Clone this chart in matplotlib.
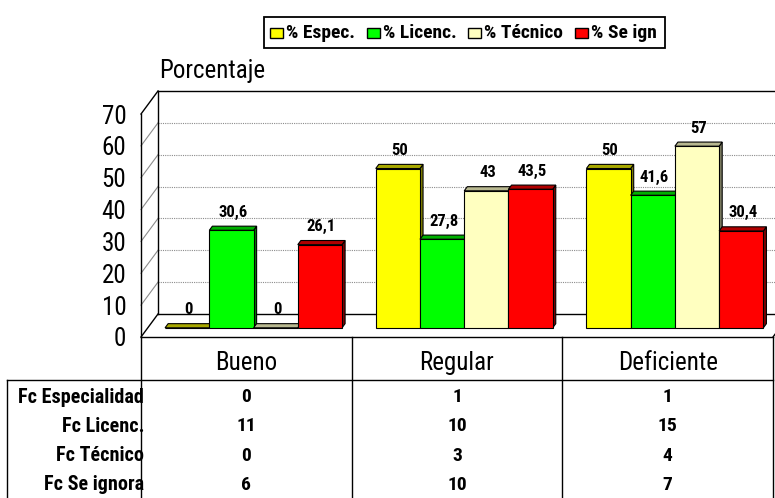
import matplotlib
matplotlib.use("Agg")
import matplotlib.pyplot as plt
from matplotlib.patches import Polygon, Rectangle
from matplotlib.lines import Line2D
from matplotlib.transforms import blended_transform_factory
from matplotlib import font_manager

# data
categories = ["Bueno", "Regular", "Deficiente"]
series = ["% Espec.", "% Licenc.", "% Técnico", "% Se ign"]
pct_espec = [0, 50, 50]
pct_licenc = [30.6, 27.8, 41.6]
pct_tecnico = [0, 43, 57]
pct_seign = [26.1, 43.5, 30.4]

row_labels = ["Fc Especialidad", "Fc Licenc.", "Fc Técnico", "Fc Se ignora"]
fc_espec = [0, 1, 1]
fc_licenc = [11, 10, 15]
fc_tecnico = [0, 3, 4]
fc_seign = [6, 10, 7]

yticks = [0, 10, 20, 30, 40, 50, 60, 70]

front_cols = ["#FFFF00", "#00FF00", "#FFFFC0", "#FF0000"]
top_cols = ["#A8A800", "#00B000", "#B8B890", "#B00000"]
side_cols = ["#808000", "#008000", "#808064", "#800000"]

# narrow sans like the original, fall back to plain Liberation Sans
names = {f.name for f in font_manager.fontManager.ttflist}
fam = "Liberation Sans"
for cand in ["Liberation Sans Narrow", "Arial Narrow", "Roboto Condensed", "Archivo Narrow"]:
    if cand in names:
        fam = cand
        break
plt.rcParams["font.family"] = [fam, "DejaVu Sans"]

W, H = 775, 498
fig = plt.figure(figsize=(W / 100, H / 100), dpi=100)
ax = fig.add_axes([141 / W, 1 - 337 / H, 632 / W, 223 / H])
ax.set_xlim(0, 3)
ax.set_ylim(0, 70)
ax.patch.set_visible(False)
for s in ax.spines.values():
    s.set_visible(False)
ax.set_xticks([])
ax.set_yticks(yticks)
ax.tick_params(axis="y", length=0, pad=10.5, labelsize=18)

# depth of the 3d box (data units)
DX = 17 / 210.67
DY = 23 / 3.186


def pt(x, v, d):
    return (x + d * DX, v + d * DY)


line_kw = dict(color="black", lw=1.0, clip_on=False, zorder=2)
# gridlines on back wall and left wall
for v in yticks[1:-1]:
    ax.plot([pt(0, v, 1)[0], pt(3.2, v, 1)[0]], [v + DY, v + DY], color="#8c8c8c",
            lw=0.8, ls=(0, (1, 1)), clip_on=False, zorder=1)
    ax.plot([0, DX], [v, v + DY], color="#8c8c8c", lw=0.8, clip_on=False, zorder=1)
# box edges
ax.plot([0, 0], [0, 70], **line_kw)
ax.plot([0, DX], [70, 70 + DY], **line_kw)
ax.plot([DX, 3.2], [70 + DY, 70 + DY], **line_kw)
ax.plot([DX, DX], [DY, 70 + DY], **line_kw)
ax.plot([0, DX], [0, DY], **line_kw)
ax.plot([DX, 3.2], [DY, DY], **line_kw)
ax.plot([0, 3], [0, 0], **line_kw)
ax.plot([3, 3 + DX], [0, DY], **line_kw)

# bars
GAP = 0.082
BW = 0.21
D0, D1 = 0.4, 0.58
all_vals = [pct_espec, pct_licenc, pct_tecnico, pct_seign]
for j, vals in enumerate(all_vals):
    z = 3 + j
    xs = [i + GAP + j * BW for i in range(len(categories))]
    ax.bar([x + D0 * DX for x in xs], vals, width=BW, bottom=D0 * DY, align="edge",
           color=front_cols[j], edgecolor="black", lw=0.8, clip_on=False, zorder=z + 0.5)
    for x, v in zip(xs, vals):
        top = [pt(x, v, D0), pt(x + BW, v, D0), pt(x + BW, v, D1), pt(x, v, D1)]
        side = [pt(x + BW, 0, D0), pt(x + BW, v, D0), pt(x + BW, v, D1), pt(x + BW, 0, D1)]
        ax.add_patch(Polygon(side, closed=True, fc=side_cols[j], ec="black", lw=0.8,
                             clip_on=False, zorder=z))
        ax.add_patch(Polygon(top, closed=True, fc=top_cols[j], ec="black", lw=0.8,
                             clip_on=False, zorder=z))
        lx, ly = pt(x + BW / 2, v, D0)
        ax.annotate(f"{v:g}".replace(".", ","), (lx, ly), xytext=(1.5, 18),
                    textcoords="offset pixels", ha="center", va="center",
                    fontsize=12, weight="bold", zorder=20, annotation_clip=False)

# data table under the plot
tr = blended_transform_factory(ax.transData, fig.transFigure)


def fy(py):
    return 1 - py / H


for x in range(len(categories) + 1):
    ax.plot([x, x], [fy(337), 0], transform=tr, **line_kw)
fig.add_artist(Line2D([7 / W, 773 / W], [fy(380), fy(380)], color="black", lw=1.0))
fig.add_artist(Line2D([7 / W, 7 / W], [fy(380), 0], color="black", lw=1.0))

for i, c in enumerate(categories):
    ax.text(i + 0.5, fy(363), c, transform=tr, ha="center", va="center", fontsize=18)

table_vals = [fc_espec, fc_licenc, fc_tecnico, fc_seign]
for k, (lab, vals) in enumerate(zip(row_labels, table_vals)):
    y = fy(397 + k * 29.3)
    ax.text(0.016, y, lab, transform=tr, ha="right", va="center", fontsize=14.5,
            weight="bold", zorder=1)
    for i, v in enumerate(vals):
        ax.text(i + 0.5, y, str(v), transform=tr, ha="center", va="center",
                fontsize=14, weight="bold")

# y label
fig.text(159 / W, fy(71), "Porcentaje", ha="left", va="center", fontsize=18)

# legend box, entries at the same spots as the original
fig.add_artist(Rectangle((264 / W, fy(48)), 401 / W, 31 / H, transform=fig.transFigure,
                         fc="white", ec="black", lw=1.3))
leg_x = [270, 367, 468, 575]
for j, name in enumerate(series):
    fig.add_artist(Rectangle((leg_x[j] / W, fy(38)), 13 / W, 10 / H, transform=fig.transFigure,
                             fc=front_cols[j], ec="black", lw=1.0))
    fig.text((leg_x[j] + 16) / W, fy(33), name, ha="left", va="center", fontsize=14,
             weight="bold")

fig.savefig("out.png", dpi=100)
